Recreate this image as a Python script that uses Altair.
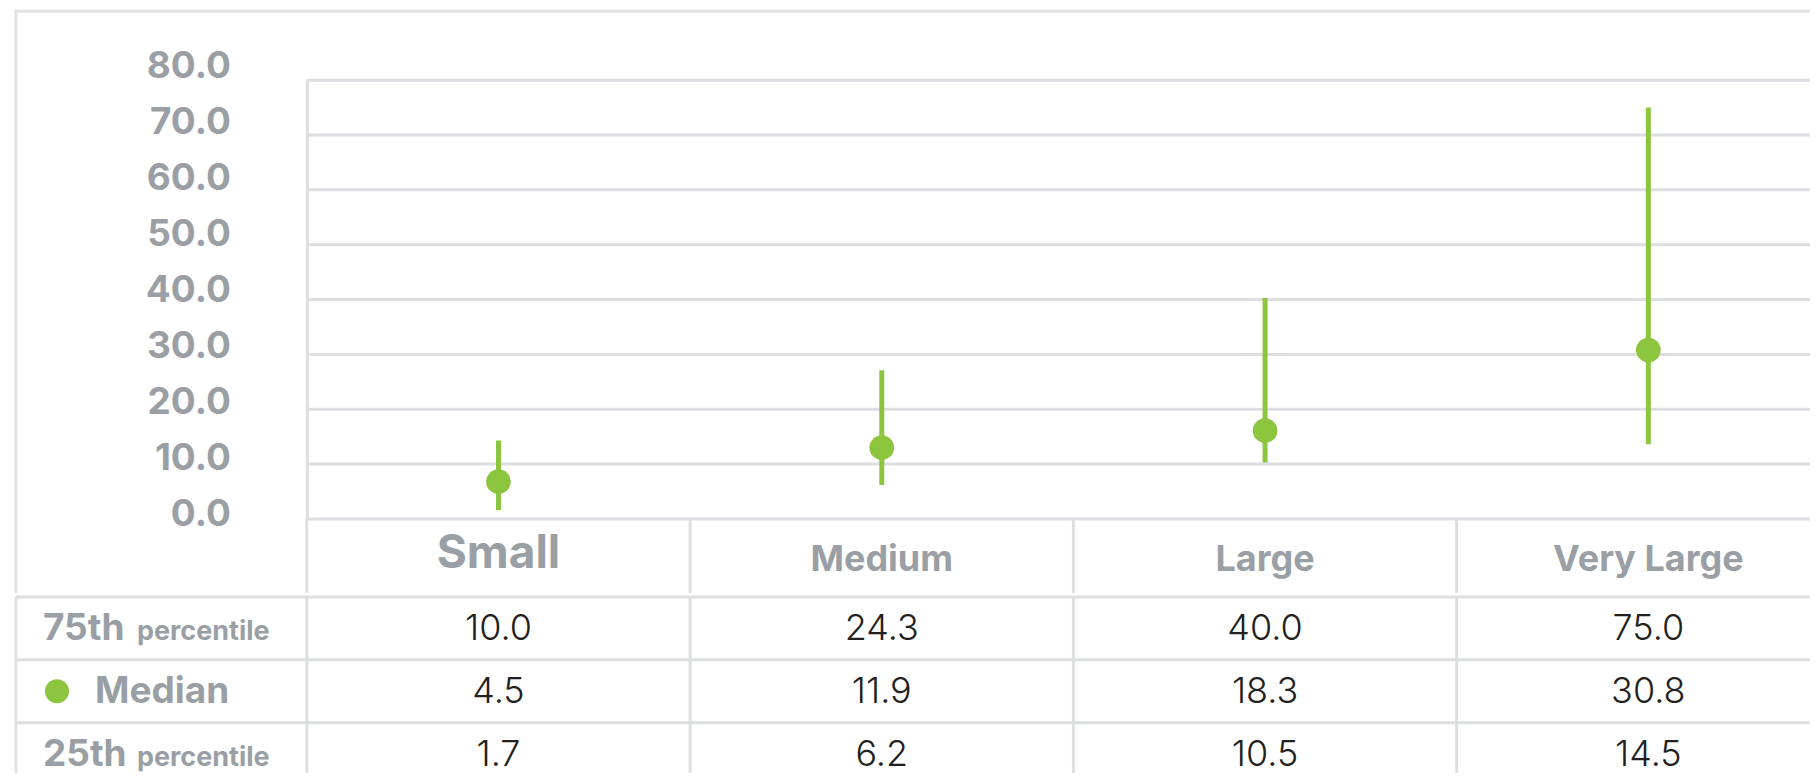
import altair as alt
import pandas as pd

# ---------------- data ----------------
categories = ["Small", "Medium", "Large", "Very Large"]

# values as drawn in the plot
p75_plot = [14.3, 27.1, 40.3, 75.0]
median_plot = [6.8, 13.0, 16.1, 30.8]
p25_plot = [1.6, 6.2, 10.3, 13.6]

# values printed in the table
row_keys = ["75th percentile", "Median", "25th percentile"]
p75_table = ["10.0", "24.3", "40.0", "75.0"]
median_table = ["4.5", "11.9", "18.3", "30.8"]
p25_table = ["1.7", "6.2", "10.5", "14.5"]

row_big = ["75th", "Median", "25th"]
row_small = ["percentile", "", "percentile"]

y_tick_values = [0, 10, 20, 30, 40, 50, 60, 70, 80]
y_tick_labels = ["0.0", "10.0", "20.0", "30.0", "40.0", "50.0", "60.0", "70.0", "80.0"]

# ---------------- style ----------------
GREEN = "#8cc63f"
GRID = "#dcdee2"
BORDER = "#e0e2e6"
LABEL = "#9a9fa5"
TEXT = "#231f20"
FONT = "Inter"

PLOT_W = 1504
PLOT_H = 439
BAND_RANGE = [0, 1534]
LEFT = 291      # plot left -> outer border
TOP = 69        # plot top  -> outer border
HEADER = 74
TABLE_H = 176
ROW_RANGE = [0, 189]

plot_df = pd.DataFrame({"cat": categories, "p75": p75_plot,
                        "median": median_plot, "p25": p25_plot})
tick_df = pd.DataFrame({"v": y_tick_values, "label": y_tick_labels})
cat_df = pd.DataFrame({"cat": categories})
one = pd.DataFrame({"k": [0]})

x_scale = alt.Scale(domain=categories, range=BAND_RANGE, paddingInner=0, paddingOuter=0)
y_scale = alt.Scale(domain=[0, 80], nice=False, zero=True)

y_axis = alt.Axis(
    title=None, values=y_tick_values, labels=False, ticks=False, tickSize=0,
    domain=True, domainColor=GRID, domainWidth=3, grid=False,
)


def xcat(**kw):
    return alt.X("cat:N", sort=categories, scale=x_scale, axis=None, **kw)


gridlines = alt.Chart(tick_df).mark_rule(color=GRID, strokeWidth=3).encode(
    y=alt.Y("v:Q", scale=y_scale, axis=y_axis)
)
ranges = alt.Chart(plot_df).mark_rule(color=GREEN, strokeWidth=5).encode(
    x=xcat(),
    y=alt.Y("p25:Q", scale=y_scale, axis=y_axis),
    y2="p75:Q",
)
medians = alt.Chart(plot_df).mark_circle(color=GREEN, size=610, opacity=1).encode(
    x=xcat(),
    y=alt.Y("median:Q", scale=y_scale, axis=y_axis),
)

# header row of the table (below the plot area)
header_lines = alt.Chart(cat_df).mark_rule(color=GRID, strokeWidth=3).encode(
    x=xcat(bandPosition=0), y=alt.value(PLOT_H), y2=alt.value(PLOT_H + HEADER)
)
header_small = alt.Chart(cat_df).transform_filter("datum.cat == 'Small'").mark_text(
    font=FONT, fontSize=46, fontWeight="bold", color=LABEL, baseline="alphabetic"
).encode(x=xcat(), y=alt.value(PLOT_H + 49), text="cat:N")
header_rest = alt.Chart(cat_df).transform_filter("datum.cat != 'Small'").mark_text(
    font=FONT, fontSize=36, fontWeight="bold", color=LABEL, baseline="alphabetic"
).encode(x=xcat(), y=alt.value(PLOT_H + 52), text="cat:N")

border_top = alt.Chart(one).mark_rule(color=BORDER, strokeWidth=3).encode(
    x=alt.value(-LEFT), x2=alt.value(PLOT_W), y=alt.value(-TOP)
)
border_left = alt.Chart(one).mark_rule(color=BORDER, strokeWidth=3).encode(
    x=alt.value(-LEFT), y=alt.value(-TOP - 1.5), y2=alt.value(PLOT_H + HEADER)
)

plot_layer = alt.layer(border_top, border_left, gridlines, header_lines,
                       ranges, medians, header_small, header_rest)

tick_labels = alt.Chart(tick_df).mark_text(
    align="right", baseline="middle", font=FONT, fontSize=37,
    fontWeight="bold", color=LABEL,
).encode(
    x=alt.value(-76),
    y=alt.Y("v:Q", scale=alt.Scale(domain=[0, 80], range=[435, -13], nice=False), axis=None),
    text="label:N",
)

top = alt.layer(plot_layer, tick_labels).resolve_scale(y="independent").properties(
    width=PLOT_W, height=PLOT_H
)

# ---------------- table ----------------
table_df = pd.DataFrame({
    "cat": categories * 3,
    "row": [row_keys[0]] * 4 + [row_keys[1]] * 4 + [row_keys[2]] * 4,
    "text": p75_table + median_table + p25_table,
})
label_df = pd.DataFrame({"row": row_keys, "big": row_big, "small": row_small})

ty_scale = alt.Scale(domain=row_keys, range=ROW_RANGE, paddingInner=0, paddingOuter=0)


def yrow(**kw):
    return alt.Y("row:N", scale=ty_scale, axis=None, **kw)


col_lines = alt.Chart(cat_df).mark_rule(color=GRID, strokeWidth=3).encode(
    x=xcat(bandPosition=0)
)

row_lines = alt.Chart(pd.DataFrame({"row": row_keys})).mark_rule(
    color=GRID, strokeWidth=3
).encode(x=alt.value(-LEFT), x2=alt.value(PLOT_W), y=yrow(bandPosition=0))

values = alt.Chart(table_df).mark_text(
    font=FONT, fontSize=36, fontWeight=300, color=TEXT,
    baseline="alphabetic", dy=12,
).encode(x=xcat(), y=yrow(), text="text:N")

pct_big = alt.Chart(label_df).transform_filter("datum.small != ''").mark_text(
    align="left", baseline="alphabetic", dy=12, font=FONT, fontSize=37,
    fontWeight="bold", color=LABEL,
).encode(x=alt.value(-264), y=yrow(), text="big:N")

pct_small = alt.Chart(label_df).transform_filter("datum.small != ''").mark_text(
    align="left", baseline="alphabetic", dy=12, font=FONT, fontSize=27,
    fontWeight="bold", color=LABEL,
).encode(x=alt.value(-170), y=yrow(), text="small:N")

median_label = alt.Chart(label_df).transform_filter("datum.small == ''").mark_text(
    align="left", baseline="alphabetic", dy=12, font=FONT, fontSize=37,
    fontWeight="bold", color=LABEL,
).encode(x=alt.value(-212), y=yrow(), text="big:N")

median_dot = alt.Chart(label_df).transform_filter("datum.small == ''").mark_circle(
    color=GREEN, size=580, opacity=1
).encode(x=alt.value(-250), y=yrow())

border_left2 = alt.Chart(one).mark_rule(color=BORDER, strokeWidth=3).encode(
    x=alt.value(-LEFT), y=alt.value(0), y2=alt.value(TABLE_H)
)

table = alt.layer(border_left2, col_lines, row_lines, values, pct_big, pct_small,
                  median_label, median_dot).properties(width=PLOT_W, height=TABLE_H)

chart = alt.vconcat(top, table, spacing=0).properties(
    padding={"left": 6, "top": 0, "right": 0, "bottom": 0}
).configure_view(strokeWidth=0)

chart.save("out.html", embed_options={"renderer": "svg", "actions": False})
